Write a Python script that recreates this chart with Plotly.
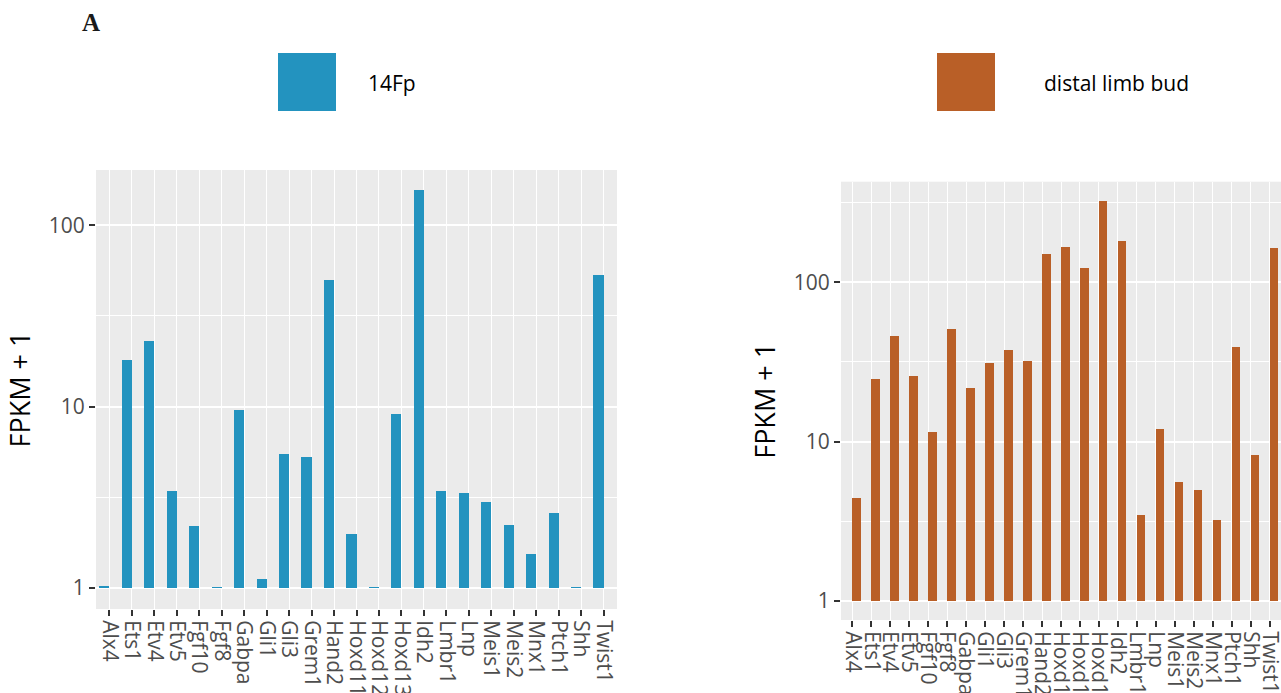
import plotly.graph_objects as go

# Gene panel shared by both tissues
genes = ["Alx4", "Ets1", "Etv4", "Etv5", "Fgf10", "Fgf8", "Gabpa", "Gli1", "Gli3",
         "Grem1", "Hand2", "Hoxd11", "Hoxd12", "Hoxd13", "Idh2", "Lmbr1", "Lnp",
         "Meis1", "Meis2", "Mnx1", "Ptch1", "Shh", "Twist1"]

# Expression as FPKM + 1
fpkm1_14fp = [1.02, 18.1, 23.0, 3.41, 2.20, 1.01, 9.6, 1.125, 5.50, 5.29, 50.0, 1.99,
              1.01, 9.13, 156.0, 3.43, 3.35, 2.96, 2.23, 1.545, 2.57, 1.01, 53.2]
fpkm1_limb = [4.42, 24.7, 46.0, 25.8, 11.6, 50.9, 21.7, 31.1, 37.6, 32.0, 150.6, 166.6,
              123.0, 324.0, 181.7, 3.45, 11.98, 5.57, 4.96, 3.21, 39.2, 8.23, 164.2]

y_tickvals = [1, 10, 100]
y_ticktext = ["1", "10", "100"]
y_minorvals = [10 ** 0.5, 10 ** 1.5, 10 ** 2.5]

series_names = ["14Fp", "distal limb bud"]

W, H = 1281, 693
BLUE = "#2393BF"
ORANGE = "#B95F27"
PANEL = "#EBEBEB"
FONT = "Open Sans"


def fx(p):
    return p / W


def fy(p):
    return 1 - p / H


fig = go.Figure()

# Bars start at 1 (FPKM = 0) on the log axis; height is the FPKM itself
fig.add_trace(go.Bar(
    x=genes, y=[v - 1 for v in fpkm1_14fp], base=1,
    offset=-0.45, width=0.45,
    marker=dict(color=BLUE, line=dict(width=0)),
    xaxis="x", yaxis="y", name=series_names[0], showlegend=False,
))
fig.add_trace(go.Bar(
    x=genes, y=[v - 1 for v in fpkm1_limb], base=1,
    offset=0.0, width=0.45,
    marker=dict(color=ORANGE, line=dict(width=0)),
    xaxis="x2", yaxis="y2", name=series_names[1], showlegend=False,
))

tickfont = dict(family=FONT, size=21, color="#4D4D4D")

xcommon = dict(
    type="category", categoryorder="array", categoryarray=genes,
    range=[-0.6, len(genes) - 0.4], tickangle=90,
    tickmode="array", tickvals=genes, ticktext=genes,
    ticks="outside", ticklen=6, tickwidth=2, tickcolor="#333333",
    tickfont=dict(family=FONT, size=21, color="#4D4D4D"),
    showgrid=True, gridcolor="white", gridwidth=1.4,
    zeroline=False, showline=False, automargin=False, fixedrange=True,
)

ycommon = dict(
    type="log", tickmode="array", tickvals=y_tickvals, ticktext=y_ticktext,
    ticks="outside", ticklen=6, tickwidth=2, tickcolor="#333333",
    tickfont=tickfont, showgrid=True, gridcolor="white", gridwidth=1.6,
    minor=dict(tickmode="array", tickvals=y_minorvals, showgrid=True,
               gridcolor="white", gridwidth=0.8, ticks=""),
    zeroline=False, showline=False, automargin=False, fixedrange=True,
    title=dict(text="FPKM + 1", font=dict(family=FONT, size=27, color="black"),
               standoff=10),
)

fig.update_layout(
    width=W, height=H,
    margin=dict(l=0, r=0, t=0, b=0),
    paper_bgcolor="white", plot_bgcolor=PANEL,
    barmode="overlay", bargap=0,
    xaxis=dict(xcommon, domain=[fx(96), fx(617)], anchor="y"),
    yaxis=dict(ycommon, domain=[fy(609), fy(170)], anchor="x",
               range=[-0.117, 2.305]),
    xaxis2=dict(xcommon, domain=[fx(841), 1.0], anchor="y2"),
    yaxis2=dict(ycommon, domain=[fy(620), fy(181.7)], anchor="x2",
                range=[-0.121, 2.632]),
)

# Legend keys and labels for each panel
legend_items = [
    (278, 336, 366, BLUE, series_names[0]),
    (937, 995, 1042, ORANGE, series_names[1]),
]
for k0, k1, tx, col, label in legend_items:
    fig.add_shape(type="rect", xref="paper", yref="paper",
                  x0=fx(k0), x1=fx(k1), y0=fy(111), y1=fy(53),
                  fillcolor=col, line=dict(width=0), layer="above")
    fig.add_annotation(xref="paper", yref="paper", x=fx(tx), y=fy(83),
                       xanchor="left", yanchor="middle", showarrow=False,
                       text=label, font=dict(family=FONT, size=21, color="black"))

# Panel tag
fig.add_annotation(xref="paper", yref="paper", x=fx(80), y=fy(22),
                   xanchor="left", yanchor="middle", showarrow=False,
                   text="<b>A</b>",
                   font=dict(family="Liberation Serif", size=25, color="#1a1a1a"))

fig.write_html("out.html")
